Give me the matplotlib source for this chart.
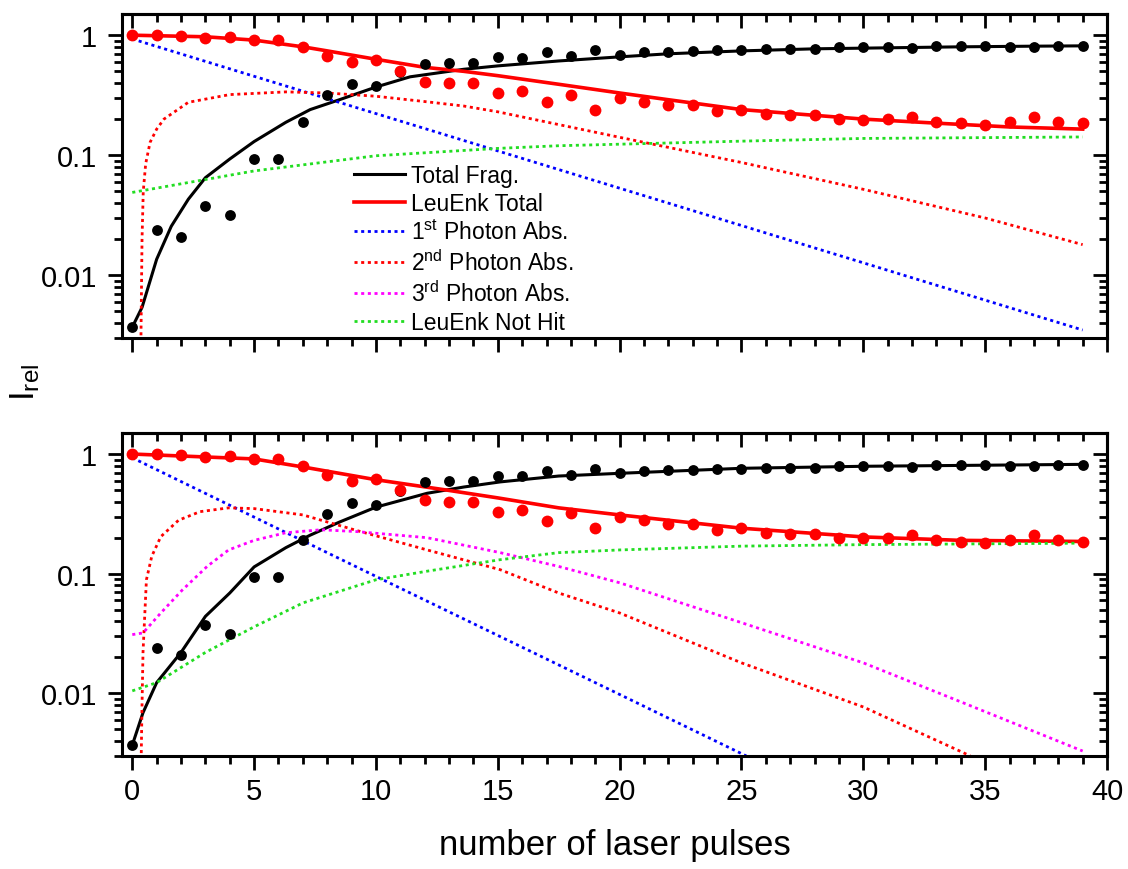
import matplotlib
matplotlib.use("Agg")
import matplotlib.pyplot as plt
from matplotlib.ticker import FixedLocator, FuncFormatter, LogLocator, MultipleLocator, NullFormatter

plt.rcParams["font.family"] = ["Liberation Sans", "DejaVu Sans"]
plt.rcParams["mathtext.fontset"] = "custom"
plt.rcParams["mathtext.rm"] = "Liberation Sans"
plt.rcParams["mathtext.it"] = "Liberation Sans"

# measured points (same in both panels)
pulses = list(range(40))
frag_pts = [0.0037, 0.024, 0.021, 0.0376, 0.0316, 0.093, 0.093, 0.19, 0.316, 0.39,
            0.376, 0.49, 0.58, 0.59, 0.59, 0.66, 0.65, 0.72, 0.67, 0.75,
            0.69, 0.72, 0.73, 0.74, 0.75, 0.75, 0.76, 0.76, 0.77, 0.79,
            0.80, 0.79, 0.78, 0.81, 0.81, 0.81, 0.80, 0.79, 0.81, 0.815]
leu_pts = [1.0, 1.0, 0.98, 0.95, 0.97, 0.91, 0.91, 0.80, 0.67, 0.60,
           0.62, 0.50, 0.41, 0.40, 0.40, 0.33, 0.34, 0.275, 0.32, 0.24,
           0.30, 0.28, 0.26, 0.26, 0.234, 0.24, 0.22, 0.215, 0.215, 0.20,
           0.197, 0.20, 0.21, 0.19, 0.184, 0.18, 0.19, 0.21, 0.19, 0.184]

# model A (top panel)
a_frag_x = [0, 0.4, 1, 1.6, 2.3, 3, 4, 5, 6.3, 7.3, 8.5, 10, 11.4, 13.6, 15, 17.5, 20, 22, 25, 28, 31, 34, 37, 39]
a_frag_y = [0.0037, 0.0054, 0.0136, 0.0256, 0.043, 0.065, 0.093, 0.13, 0.188, 0.24, 0.29, 0.37, 0.45, 0.52,
            0.555, 0.61, 0.66, 0.70, 0.74, 0.77, 0.785, 0.80, 0.81, 0.815]
a_leu_x = [0, 3, 5, 7, 8, 10, 12, 13.6, 15, 17.5, 20, 22, 25, 28, 30, 33, 36, 39]
a_leu_y = [1.0, 0.97, 0.91, 0.80, 0.74, 0.63, 0.54, 0.50, 0.46, 0.39, 0.33, 0.29, 0.24, 0.215, 0.20, 0.185, 0.172, 0.165]
a_p1_x = [0, 39]
a_p1_y = [0.93, 0.0035]
a_p2_x = [0.33, 0.4, 0.45, 0.55, 0.73, 1.0, 1.3, 2.3, 4, 6.3, 8, 10, 12, 13.6, 15, 17.5, 20, 25, 30, 35, 39]
a_p2_y = [0.001, 0.02, 0.05, 0.085, 0.128, 0.165, 0.2, 0.276, 0.32, 0.337, 0.33, 0.31, 0.28, 0.257,
          0.23, 0.18, 0.141, 0.087, 0.052, 0.03, 0.018]
a_nh_x = [0, 5, 10, 15, 17.5, 25, 30, 39]
a_nh_y = [0.049, 0.074, 0.099, 0.114, 0.12, 0.131, 0.138, 0.142]

# model B (bottom panel)
b_frag_x = [0, 0.44, 1, 2, 3, 4, 5, 6.3, 7.3, 8.5, 10, 12.1, 13.6, 15.1, 17.5, 20, 25, 30, 39]
b_frag_y = [0.0037, 0.0069, 0.0123, 0.022, 0.044, 0.069, 0.114, 0.165, 0.21, 0.27, 0.36, 0.47, 0.53,
            0.585, 0.655, 0.69, 0.76, 0.79, 0.82]
b_leu_x = [0, 5, 7, 10, 12.9, 15, 17.5, 20, 25, 30, 34, 39]
b_leu_y = [1.0, 0.91, 0.78, 0.61, 0.50, 0.43, 0.355, 0.31, 0.24, 0.203, 0.19, 0.186]
b_p1_x = [0, 10, 20, 25.2]
b_p1_y = [0.93, 0.095, 0.0098, 0.003]
b_p2_x = [0.33, 0.4, 0.44, 0.58, 0.8, 1.17, 1.9, 2.78, 3.95, 5, 7, 9.2, 12.1, 15.1, 17.5, 20, 25, 30, 34.1, 35]
b_p2_y = [0.001, 0.008, 0.022, 0.089, 0.14, 0.204, 0.28, 0.33, 0.355, 0.35, 0.31, 0.23, 0.158, 0.108,
          0.069, 0.047, 0.018, 0.0077, 0.0032, 0.0026]
b_p3_x = [0, 0.44, 1.17, 2.05, 3.07, 3.95, 5, 6.3, 7.75, 9.2, 12.1, 15.1, 17.5, 20, 25, 30, 34, 39]
b_p3_y = [0.031, 0.032, 0.047, 0.073, 0.115, 0.158, 0.19, 0.22, 0.233, 0.225, 0.2, 0.15, 0.115, 0.084,
          0.039, 0.018, 0.0085, 0.0033]
b_nh_x = [0, 1, 3, 5, 7, 10, 12.1, 15.1, 17.5, 20, 25, 30, 39]
b_nh_y = [0.0105, 0.0123, 0.022, 0.036, 0.057, 0.089, 0.105, 0.131, 0.15, 0.158, 0.17, 0.175, 0.18]

labels = ["Total Frag.", "LeuEnk Total", r"1$^{\mathrm{st}}$ Photon Abs.", r"2$^{\mathrm{nd}}$ Photon Abs.",
          r"3$^{\mathrm{rd}}$ Photon Abs.", "LeuEnk Not Hit"]

BLUE = "#0000ff"
RED = "#ff0000"
MAG = "#ff00ff"
GREEN = "#22dd22"
DOT = (0, (1.1, 1.3))

fig = plt.figure(figsize=(11.28, 8.7), dpi=100)
ax1 = fig.add_axes([0.1082, 0.6103, 0.8732, 0.3724])
ax2 = fig.add_axes([0.1082, 0.1299, 0.8732, 0.3713])


def style(ax, xlabels):
    ax.set_yscale("log")
    ax.set_xlim(-0.42, 40)
    ax.set_ylim(0.003, 1.5)
    for s in ax.spines.values():
        s.set_linewidth(2.2)
    ax.xaxis.set_major_locator(MultipleLocator(5))
    ax.xaxis.set_minor_locator(MultipleLocator(1))
    ax.yaxis.set_major_locator(FixedLocator([0.01, 0.1, 1]))
    ax.yaxis.set_minor_locator(LogLocator(base=10, subs=range(2, 10)))
    ax.yaxis.set_major_formatter(FuncFormatter(lambda v, p: f"{v:g}"))
    ax.yaxis.set_minor_formatter(NullFormatter())
    ax.tick_params(which="major", direction="out", length=10, width=2, labelsize=21, pad=5)
    ax.tick_params(which="minor", direction="out", length=6, width=2)
    ax.tick_params(axis="y", which="major", pad=8)
    if not xlabels:
        ax.tick_params(axis="x", labelbottom=False)
    top = ax.secondary_xaxis("top")
    top.xaxis.set_major_locator(MultipleLocator(5))
    top.xaxis.set_minor_locator(MultipleLocator(1))
    top.tick_params(which="major", direction="in", length=10, width=2, labeltop=False)
    top.tick_params(which="minor", direction="in", length=6, width=2)
    right = ax.secondary_yaxis("right")
    right.yaxis.set_major_locator(FixedLocator([0.01, 0.1, 1]))
    right.yaxis.set_minor_locator(LogLocator(base=10, subs=range(2, 10)))
    right.tick_params(which="major", direction="in", length=10, width=2, labelright=False)
    right.tick_params(which="minor", direction="in", length=6, width=2, labelright=False)
    for s in list(top.spines.values()) + list(right.spines.values()):
        s.set_linewidth(2.2)


# top panel
h1, = ax1.plot(a_frag_x, a_frag_y, color="black", lw=2.2)
h2, = ax1.plot(a_leu_x, a_leu_y, color=RED, lw=2.6)
h3, = ax1.plot(a_p1_x, a_p1_y, color=BLUE, lw=2, ls=DOT)
h4, = ax1.plot(a_p2_x, a_p2_y, color=RED, lw=2, ls=DOT)
h5, = ax1.plot([], [], color=MAG, lw=2, ls=DOT)
h6, = ax1.plot(a_nh_x, a_nh_y, color=GREEN, lw=2, ls=DOT)
ax1.plot(pulses, frag_pts, "o", color="black", ms=7.8, mew=0)
ax1.plot(pulses, leu_pts, "o", color=RED, ms=8.5, mew=0)
style(ax1, False)
ax1.legend([h1, h2, h3, h4, h5, h6], labels, loc="upper left", bbox_to_anchor=(0.235, 0.537),
           frameon=False, fontsize=16.5, handlelength=2.25, handletextpad=0.25, labelspacing=0.22,
           borderpad=0, borderaxespad=0)

# bottom panel
ax2.plot(b_frag_x, b_frag_y, color="black", lw=2.2)
ax2.plot(b_leu_x, b_leu_y, color=RED, lw=2.6)
ax2.plot(b_p1_x, b_p1_y, color=BLUE, lw=2, ls=DOT)
ax2.plot(b_p2_x, b_p2_y, color=RED, lw=2, ls=DOT)
ax2.plot(b_p3_x, b_p3_y, color=MAG, lw=2, ls=DOT)
ax2.plot(b_nh_x, b_nh_y, color=GREEN, lw=2, ls=DOT)
ax2.plot(pulses, frag_pts, "o", color="black", ms=7.8, mew=0)
ax2.plot(pulses, leu_pts, "o", color=RED, ms=8.5, mew=0)
style(ax2, True)
ax2.set_xlabel("number of laser pulses", fontsize=25, labelpad=17)

fig.text(0.022, 0.56, r"I$_{\mathrm{rel}}$", rotation=90, fontsize=25, ha="center", va="center")

fig.savefig("out.png", dpi=100)
